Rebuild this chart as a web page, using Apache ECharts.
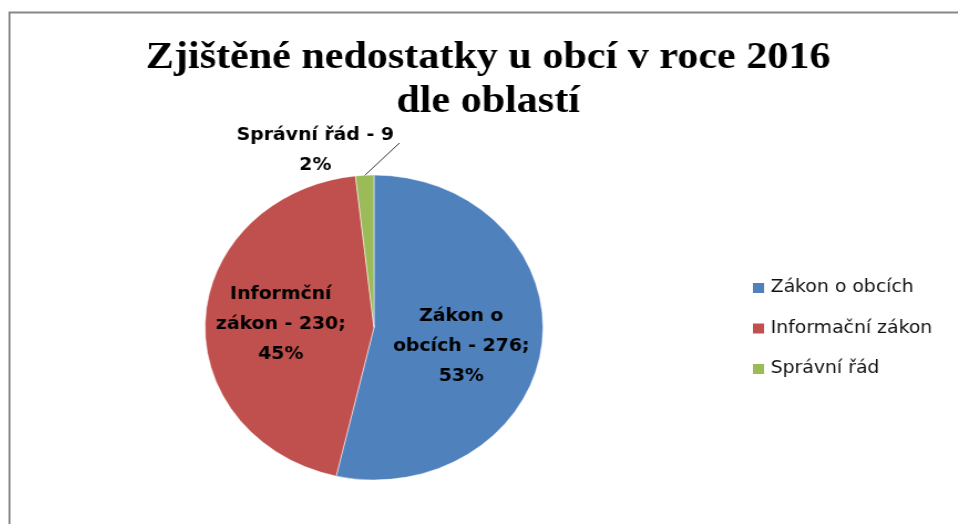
<!DOCTYPE html>
<html>
<head>
<meta charset="utf-8">
<title>Zjištěné nedostatky u obcí v roce 2016</title>
<script src="https://cdn.jsdelivr.net/npm/echarts@6/dist/echarts.min.js"></script>
<style>
  html, body { margin: 0; padding: 0; background: #fff; overflow: hidden; }
  #wrap { position: relative; width: 958px; height: 524px; }
  #main, #pie { position: absolute; left: 0; top: 0; width: 958px; height: 524px; }
  /* the original picture is a little stretched sideways (the pie is an ellipse) */
  #pie { transform: scaleX(1.108); transform-origin: 374px 0; }
</style>
</head>
<body>
<div id="wrap">
  <div id="main"></div>
  <div id="pie"></div>
</div>
<script>
// data
const categories = ['Zákon o obcích', 'Informační zákon', 'Správní řád']
const labelNames = ['Zákon o\nobcích', 'Informční\nzákon', 'Správní řád'] // labels as in the source (typo kept)
const values = [276, 230, 9]
const colors = ['#4F81BD', '#C0504D', '#9BBB59']

// frame only, not stretched
const mainChart = echarts.init(document.getElementById('main'))
mainChart.setOption({
  animation: false,
  graphic: [{
    type: 'rect',
    shape: { x: 9.5, y: 12.5, width: 1000, height: 600 },
    style: { fill: 'none', stroke: '#878787', lineWidth: 2 }
  }]
})

const pieChart = echarts.init(document.getElementById('pie'))
const seriesData = categories.map((name, i) => {
  const item = { name: name, value: values[i] }
  if (i === 2) {
    item.label = { position: 'outside' }
    item.labelLine = { show: true }
  }
  return item
})

pieChart.setOption({
  animation: false,
  color: colors,
  title: {
    text: 'Zjištěné nedostatky u obcí v roce 2016\ndle oblastí',
    left: 472,
    top: 31,
    textAlign: 'center',
    textStyle: {
      fontFamily: 'Liberation Serif',
      fontWeight: 'bold',
      fontSize: 38,
      lineHeight: 44,
      color: '#000'
    }
  },
  legend: {
    orient: 'vertical',
    left: 714,
    top: 279,
    padding: 0,
    icon: 'rect',
    itemWidth: 12,
    itemHeight: 12,
    itemGap: 22.5,
    data: categories,
    textStyle: {
      fontFamily: 'DejaVu Sans',
      fontSize: 17,
      lineHeight: 18,
      color: '#111'
    }
  },
  series: [{
    type: 'pie',
    center: [374, 327.5],
    radius: 152.5,
    startAngle: 90,
    clockwise: true,
    percentPrecision: 0,
    itemStyle: { borderColor: '#fff', borderWidth: 0.5 },
    label: {
      show: true,
      position: 'inside',
      color: '#000',
      fontFamily: 'DejaVu Sans',
      fontWeight: 'bold',
      fontSize: 17,
      lineHeight: 30,
      align: 'center',
      formatter: p => {
        const sep = p.dataIndex === 2 ? '\n' : ';\n'
        return labelNames[p.dataIndex] + ' - ' + p.value + sep + p.percent + '%'
      }
    },
    labelLine: {
      show: false,
      lineStyle: { color: '#000', width: 0.8 }
    },
    labelLayout: function (p) {
      if (p.dataIndex === 0) return { dy: 10 }
      if (p.dataIndex === 1) return { dx: -5, dy: 2 }
      return {
        x: 321,
        y: 151,
        align: 'center',
        verticalAlign: 'middle',
        labelLinePoints: [[365, 176], [397, 143], [397, 143]]
      }
    },
    data: seriesData
  }]
})
</script>
</body>
</html>
